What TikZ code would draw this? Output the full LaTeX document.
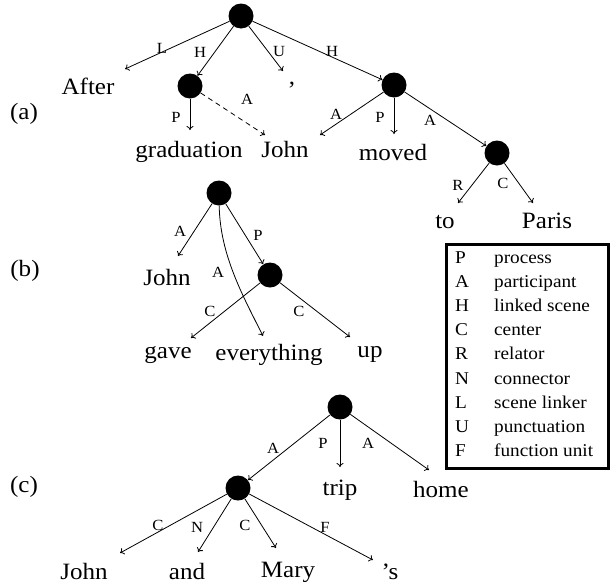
\documentclass[tikz,border=0pt]{standalone}
\usepackage{fontspec}
\setmainfont{Liberation Serif}[FakeStretch=1.07]
\usetikzlibrary{arrows.meta}
\begin{document}
\begin{tikzpicture}[x=1pt,y=-1pt,
  dot/.style={circle,fill=black,minimum size=25pt,inner sep=0pt},
  word/.style={anchor=base,inner sep=0pt,font=\fontsize{23.4}{28}\selectfont},
  lab/.style={inner sep=0pt,font=\fontsize{15.5}{18}\selectfont},
  arr/.style={line width=0.8pt,-{To[length=4pt,width=7pt]}},
  dsh/.style={arr,dash pattern=on 5pt off 4pt}]
\useasboundingbox (0,0) rectangle (612,584);
% ---------- (a)
\node[word] (tagA) at (24,119) {(a)};
\node[dot] (a1) at (241,16) {};
\node[dot] (a2) at (190,86) {};
\node[dot] (a3) at (394,85) {};
\node[dot] (a4) at (497,153) {};
\node[word] (after) at (88,94) {After};
\node[word] (comma) at (292,84) {,};
\node[word] (grad) at (189,157) {graduation};
\node[word] (johnA) at (285,157) {John};
\node[word] (moved) at (393,160) {moved};
\node[word] (to) at (445,228) {to};
\node[word] (paris) at (547,228) {Paris};
\draw[arr] (a1) -- ([shift={(37,-25)}]after.base);
\draw[arr] (a1) -- (a2);
\draw[arr] (a1) -- ([shift={(-9,-13)}]comma.base);
\draw[arr] (a1) -- (a3);
\draw[arr] (a2) -- ([shift={(1,-27)}]grad.base);
\draw[dsh] (a2) -- ([shift={(-20,-22)}]johnA.base);
\draw[arr] (a3) -- ([shift={(35,-22)}]johnA.base);
\draw[arr] (a3) -- ([shift={(1,-26)}]moved.base);
\draw[arr] (a3) -- (a4);
\draw[arr] (a4) -- ([shift={(13,-25)}]to.base);
\draw[arr] (a4) -- ([shift={(-14,-25)}]paris.base);
\node[lab] (lL) at (162,48) {L};
\node[lab] (lH1) at (200,52) {H};
\node[lab] (lU) at (279,51) {U};
\node[lab] (lH2) at (332,51) {H};
\node[lab] (lP1) at (176,117) {P};
\node[lab] (lA1) at (247,99) {A};
\node[lab] (lA2) at (336,114) {A};
\node[lab] (lP2) at (380,117) {P};
\node[lab] (lA3) at (430,120) {A};
\node[lab] (lR) at (458,185) {R};
\node[lab] (lC1) at (503,183) {C};
% ---------- (b)
\node[word] (tagB) at (25,276) {(b)};
\node[dot] (b1) at (219,193) {};
\node[dot] (b2) at (270,275) {};
\node[word] (johnB) at (167,285) {John};
\node[word] (gave) at (168,358) {gave};
\node[word] (every) at (269,360) {everything};
\node[word] (up) at (370,357) {up};
\draw[arr] (b1) -- ([shift={(11,-29)}]johnB.base);
\draw[arr] (b1) -- (b2);
\draw[arr] (b1) .. controls +(1,62) and +(-20,-40) .. ([shift={(-6,-24)}]every.base);
\draw[arr] (b2) -- ([shift={(23,-20)}]gave.base);
\draw[arr] (b2) -- ([shift={(-20,-20)}]up.base);
\node[lab] (lA4) at (180,231) {A};
\node[lab] (lP3) at (258,235) {P};
\node[lab] (lA5) at (218,272) {A};
\node[lab] (lC2) at (210,311) {C};
\node[lab] (lC3) at (299,311) {C};
% ---------- (c)
\node[word] (tagC) at (24,492) {(c)};
\node[dot] (c1) at (340,407) {};
\node[dot] (c2) at (238,488) {};
\node[word] (trip) at (340,495) {trip};
\node[word] (home) at (441,497) {home};
\node[word] (johnC) at (84,579) {John};
\node[word] (and) at (187,579) {and};
\node[word] (mary) at (288,577) {Mary};
\node[word] (poss) at (390,579) {'s};
\draw[arr] (c1) -- (c2);
\draw[arr] (c1) -- ([shift={(0,-28)}]trip.base);
\draw[arr] (c1) -- ([shift={(-12,-27)}]home.base);
\draw[arr] (c2) -- ([shift={(36,-26)}]johnC.base);
\draw[arr] (c2) -- ([shift={(11,-27)}]and.base);
\draw[arr] (c2) -- ([shift={(-12,-29)}]mary.base);
\draw[arr] (c2) -- ([shift={(-17,-19)}]poss.base);
\node[lab] (lA6) at (273,448) {A};
\node[lab] (lP4) at (323,443) {P};
\node[lab] (lA7) at (368,443) {A};
\node[lab] (lC4) at (158,525) {C};
\node[lab] (lN) at (197,527) {N};
\node[lab] (lC5) at (245,525) {C};
\node[lab] (lF) at (325,527) {F};
% ---------- legend
\node[draw,line width=2.5pt,minimum width=162pt,minimum height=224pt,anchor=north west,inner sep=0pt] (legbox) at (445,243) {};
\node[anchor=base west,inner sep=0pt,font=\fontsize{18}{24.1}\selectfont] (legend) at (455,263.5)
 {\begin{tabular}[t]{@{}p{39pt}@{}l@{}}
 P & process\\
 A & participant\\
 H & linked scene\\
 C & center\\
 R & relator\\
 N & connector\\
 L & scene linker\\
 U & punctuation\\
 F & function unit
 \end{tabular}};
\end{tikzpicture}
\end{document}
